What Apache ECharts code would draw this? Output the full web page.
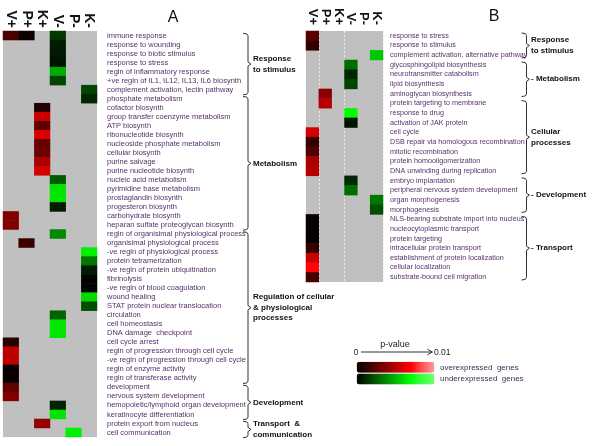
<!DOCTYPE html>
<html><head><meta charset="utf-8">
<script src="https://cdn.jsdelivr.net/npm/echarts@6/dist/echarts.min.js"></script>
<style>html,body{margin:0;padding:0;background:#fff}#c{width:600px;height:446px}</style>
</head><body><div id="c"></div>
<script>
// ---------- DATA ----------
const columns = ['V+', 'P+', 'K+', 'V-', 'P-', 'K-'];

const rowsA = [
  'immune response', 'response to wounding', 'response to biotic stimulus', 'response to stress',
  'regln of inflammatory response', '+ve regln of IL1, IL12, IL13, IL6 biosynth',
  'complement activation, lectin pathway', 'phosphate metabolism', 'cofactor biosynth',
  'group transfer coenzyme metabolism', 'ATP biosynth', 'ribonucleotide biosynth',
  'nucleoside phosphate metabolism', 'cellular biosynth', 'purine salvage',
  'purine nucleotide biosynth', 'nucleic acid metabolism', 'pyrimidine base metabolism',
  'prostaglandin biosynth', 'progesteron biosynth', 'carbohydrate biosynth',
  'heparan sulfate proteoglycan biosynth', 'regln of organisimal physiological process',
  'organisimal physiological process', '-ve regln of physiological process',
  'protein tetramerization', '-ve regln of protein ubiquitination', 'fibrinolysis',
  '-ve regln of blood coagulation', 'wound healing', 'STAT protein nuclear translocation',
  'circulation', 'cell homeostasis', 'DNA damage  checkpoint', 'cell cycle arrest',
  'regln of progression through cell cycle', '-ve regln of progression through cell cycle',
  'regln of enzyme activity', 'regln of transferase activity', 'development',
  'nervous system development', 'hemopoietic/lymphoid organ development',
  'keratinocyte differentiation', 'protein export from nucleus', 'cell communication'
];

// [column index, row index, p-value]
const overA = [
  [0, 0, 0.0021], [1, 0, 0.0004],
  [2, 8, 0.0010], [2, 9, 0.0055], [2, 10, 0.0027], [2, 11, 0.0060], [2, 12, 0.0028],
  [2, 13, 0.0030], [2, 14, 0.0047], [2, 15, 0.0058],
  [0, 20, 0.0036], [0, 21, 0.0036], [1, 23, 0.0016],
  [0, 34, 0.0011], [0, 35, 0.0052], [0, 36, 0.0052], [0, 37, 0.0002], [0, 38, 0.0002],
  [0, 39, 0.0027], [0, 40, 0.0036], [2, 43, 0.0041]
];
const underA = [
  [3, 0, 0.0016], [3, 1, 0.0008], [3, 2, 0.0007], [3, 3, 0.0005], [3, 4, 0.0047], [3, 5, 0.0019],
  [5, 6, 0.0019], [5, 7, 0.0011],
  [3, 16, 0.0025], [3, 17, 0.0063], [3, 18, 0.0063], [3, 19, 0.0008], [3, 22, 0.0038],
  [5, 24, 0.0066], [5, 25, 0.0033], [5, 26, 0.0008], [5, 27, 0.0001], [5, 28, 0.0001],
  [5, 29, 0.0060], [5, 30, 0.0022],
  [3, 31, 0.0027], [3, 32, 0.0063], [3, 33, 0.0063], [3, 41, 0.0010], [3, 42, 0.0063],
  [4, 44, 0.0066]
];

const rowsB = [
  'response to stress', 'response to stimulus', 'complement activation, alternative pathway',
  'glycosphingolipid biosynthesis', 'neurotransmitter catabolism', 'lipid biosynthesis',
  'aminoglycan biosynthesis', 'protein targeting to membrane', 'response to drug',
  'activation of JAK protein', 'cell cycle', 'DSB repair via homologous recombination',
  'mitotic recombination', 'protein homooligomerization', 'DNA unwinding during replication',
  'embryo implantation', 'peripheral nervous system development', 'organ morphogenesis',
  'morphogenesis', 'NLS-bearing substrate import into nucleus', 'nucleocytoplasmic transport',
  'protein targeting', 'intracellular protein transport', 'establishment of protein localization',
  'cellular localization', 'substrate-bound cell migration'
];
const overB = [
  [0, 0, 0.0025], [0, 1, 0.0014], [1, 6, 0.0038], [1, 7, 0.0050],
  [0, 10, 0.0058], [0, 11, 0.0014], [0, 12, 0.0022], [0, 13, 0.0047], [0, 14, 0.0050],
  [0, 19, 0.0002], [0, 20, 0.0002], [0, 21, 0.0002], [0, 22, 0.0014], [0, 23, 0.0055],
  [0, 24, 0.0071], [0, 25, 0.0019]
];
const underB = [
  [5, 2, 0.0055], [3, 3, 0.0030], [3, 4, 0.0011], [3, 5, 0.0019], [3, 8, 0.0070], [3, 9, 0.0005],
  [3, 15, 0.0011], [3, 16, 0.0030], [5, 17, 0.0033], [5, 18, 0.0022]
];

// group brackets: [label, first row, last row]
const groupsA = [
  ['Response\nto stimulus', 0, 6],
  ['Metabolism', 7, 21],
  ['Regulation of cellular\n& physiological\nprocesses', 22, 38],
  ['Development', 39, 42],
  ['Transport  &\ncommunication', 43, 44]
];
const groupsB = [
  ['Response\nto stimulus', 0, 2],
  ['- Metabolism', 3, 6],
  ['Cellular\nprocesses', 7, 14],
  ['- Development', 15, 18],
  ['- Transport', 19, 25]
];

const pRange = [0, 0.01];
const pLabels = ['0', '0.01'];
const legendTexts = ['overexpressed  genes', 'underexpressed  genes'];

// ---------- CHART ----------
const redStops = ['#000000','#240000','#490000','#6d0000','#920000','#b60000','#db0000','#ff0000','#ff3a3a','#ff6e6e','#ff9a9a'];
const greenStops = ['#000000','#002400','#004900','#006d00','#009200','#00b600','#00db00','#00ff00','#30ff30','#50ff50','#70ff70'];
const labelColor = '#57306b';
const FONT = 'Arial, "Liberation Sans", sans-serif';

const chart = echarts.init(document.getElementById('c'), null, {renderer: 'canvas'});

function xAx(gi, margin, fs) {
  return {
    type: 'category', gridIndex: gi, data: columns, position: 'top',
    axisLine: {show: false}, axisTick: {show: false},
    splitLine: gi === 1 ? {show: true, interval: (i) => i === 1 || i === 3,
      lineStyle: {color: '#eeeeee', type: [2, 2], width: 1}} : {show: false},
    axisLabel: {rotate: 90, interval: 0, margin: margin, fontSize: fs, fontWeight: 'bold',
      color: '#111', fontFamily: FONT}
  };
}
function yAx(gi, rows, margin, fs, pad) {
  return {
    type: 'category', gridIndex: gi, data: rows, inverse: true, position: 'right',
    axisLine: {show: false}, axisTick: {show: false}, splitLine: {show: false},
    axisLabel: {interval: 0, margin: margin, fontSize: fs, color: labelColor, fontFamily: FONT,
      padding: pad}
  };
}
function hm(gi, data) {
  return {type: 'heatmap', xAxisIndex: gi, yAxisIndex: gi, data: data,
    itemStyle: {borderWidth: 0}, emphasis: {disabled: true}, silent: true, progressive: 0};
}

chart.setOption({
  animation: false,
  backgroundColor: '#ffffff',
  grid: [
    {left: 3, top: 31, width: 94, height: 406, show: true, backgroundColor: '#c0c0c0', borderWidth: 0},
    {left: 306, top: 31, width: 77, height: 251, show: true, backgroundColor: '#c0c0c0', borderWidth: 0}
  ],
  xAxis: [xAx(0, 3, 14), xAx(1, 6, 13)],
  yAxis: [yAx(0, rowsA, 10, 7.5, [4, 0, 0, 0]), yAx(1, rowsB, 7, 7.2, 0)],
  visualMap: [
    {type: 'continuous', seriesIndex: [0, 2], dimension: 2, min: pRange[0], max: pRange[1],
     inRange: {color: redStops}, orient: 'horizontal', left: 356.7, top: 361.7,
     itemWidth: 11, itemHeight: 77.6, padding: 0, calculable: false, hoverLink: false,
     text: null, showLabel: false},
    {type: 'continuous', seriesIndex: [1, 3], dimension: 2, min: pRange[0], max: pRange[1],
     inRange: {color: greenStops}, orient: 'horizontal', left: 356.7, top: 373.5,
     itemWidth: 11, itemHeight: 77.6, padding: 0, calculable: false, hoverLink: false,
     text: null, showLabel: false}
  ],
  series: [hm(0, overA), hm(0, underA), hm(1, overB), hm(1, underB)]
});

// brackets and annotations
function bracketEls(gi, groups, xLine, xText, offset, inset) {
  const els = [];
  const p0 = chart.convertToPixel({yAxisIndex: gi}, 0);
  const p1 = chart.convertToPixel({yAxisIndex: gi}, 1);
  const h = Math.abs(p1 - p0);
  groups.forEach(([name, a, b]) => {
    const y1 = chart.convertToPixel({yAxisIndex: gi}, a) - h / 2 + offset + inset;
    const y2 = chart.convertToPixel({yAxisIndex: gi}, b) + h / 2 + offset - inset;
    const ym = (y1 + y2) / 2;
    els.push({
      type: 'polyline', silent: true,
      shape: {points: [[xLine - 5, y1], [xLine - 1.2, y1 + 0.6], [xLine, y1 + 2.5], [xLine, ym - 2],
        [xLine + 3, ym], [xLine, ym + 2], [xLine, y2 - 2.5], [xLine - 1.2, y2 - 0.6], [xLine - 5, y2]]},
      style: {stroke: '#333', lineWidth: 1, fill: null}
    });
    els.push({
      type: 'text', silent: true, x: xText, y: ym,
      style: {text: name, fill: '#111', font: 'bold 8px ' + FONT, textAlign: 'left',
        textVerticalAlign: 'middle', lineHeight: 10.5}
    });
  });
  return els;
}

const graphics = [].concat(
  bracketEls(0, groupsA, 248, 253, 1.5, 0.8),
  bracketEls(1, groupsB, 526.5, 531, 0, 2),
  [
    {type: 'text', silent: true, x: 173, y: 18,
     style: {text: 'A', fill: '#111', font: '16px ' + FONT, textAlign: 'center', textVerticalAlign: 'middle'}},
    {type: 'text', silent: true, x: 494, y: 17,
     style: {text: 'B', fill: '#111', font: '16px ' + FONT, textAlign: 'center', textVerticalAlign: 'middle'}},
    {type: 'line', silent: true, shape: {x1: 361, y1: 352, x2: 432, y2: 352},
     style: {stroke: '#333', lineWidth: 1}},
    {type: 'polyline', silent: true, shape: {points: [[427.5, 349.3], [432.5, 352], [427.5, 354.7]]},
     style: {stroke: '#333', lineWidth: 1, fill: null}},
    {type: 'text', silent: true, x: 395, y: 345,
     style: {text: 'p-value', fill: '#222', font: '9px ' + FONT, textAlign: 'center', textVerticalAlign: 'middle'}},
    {type: 'text', silent: true, x: 356, y: 352.5,
     style: {text: pLabels[0], fill: '#222', font: '8.5px ' + FONT, textAlign: 'center', textVerticalAlign: 'middle'}},
    {type: 'text', silent: true, x: 434, y: 352.5,
     style: {text: pLabels[1], fill: '#222', font: '8.5px ' + FONT, textAlign: 'left', textVerticalAlign: 'middle'}},
    {type: 'text', silent: true, x: 440, y: 367.5,
     style: {text: legendTexts[0], fill: '#3a2f55', font: '8px ' + FONT, textAlign: 'left', textVerticalAlign: 'middle'}},
    {type: 'text', silent: true, x: 440, y: 379,
     style: {text: legendTexts[1], fill: '#3a2f55', font: '8px ' + FONT, textAlign: 'left', textVerticalAlign: 'middle'}}
  ]
);
chart.setOption({graphic: graphics});
</script>
</body></html>
